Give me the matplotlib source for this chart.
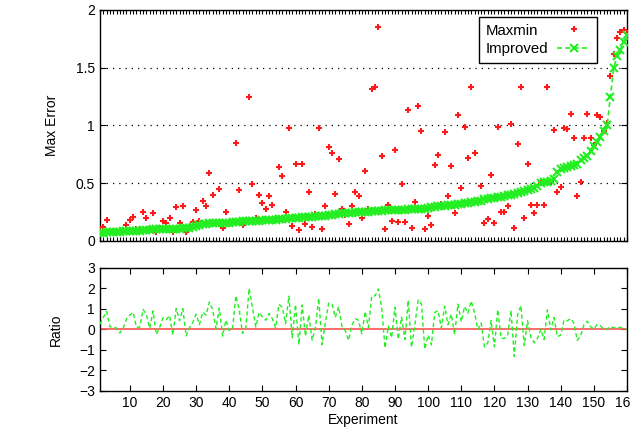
import numpy as np
import matplotlib
matplotlib.use("Agg")
import matplotlib.pyplot as plt

plt.rcParams["font.family"] = ["Liberation Sans", "DejaVu Sans"]
plt.rcParams["font.size"] = 10

# experiments sorted by the error of the improved method
improved = [
    0.07, 0.07, 0.075, 0.075, 0.08, 0.08, 0.08, 0.085, 0.085, 0.09,
    0.09, 0.09, 0.09, 0.095, 0.095, 0.095, 0.1, 0.1, 0.1, 0.1,
    0.1, 0.1, 0.105, 0.105, 0.105, 0.11, 0.11, 0.11, 0.12, 0.13,
    0.14, 0.15, 0.15, 0.155, 0.155, 0.155, 0.16, 0.16, 0.16, 0.16,
    0.165, 0.165, 0.165, 0.17, 0.17, 0.17, 0.17, 0.175, 0.175, 0.18,
    0.18, 0.18, 0.185, 0.185, 0.19, 0.19, 0.19, 0.195, 0.195, 0.2,
    0.2, 0.205, 0.205, 0.21, 0.21, 0.215, 0.215, 0.22, 0.22, 0.225,
    0.225, 0.23, 0.235, 0.24, 0.24, 0.245, 0.245, 0.25, 0.25, 0.25,
    0.255, 0.255, 0.26, 0.26, 0.26, 0.26, 0.265, 0.265, 0.265, 0.27,
    0.27, 0.27, 0.27, 0.275, 0.275, 0.275, 0.28, 0.28, 0.28, 0.285,
    0.29, 0.29, 0.3, 0.3, 0.305, 0.31, 0.31, 0.315, 0.32, 0.32,
    0.325, 0.33, 0.335, 0.34, 0.35, 0.35, 0.36, 0.365, 0.37, 0.375,
    0.38, 0.385, 0.39, 0.395, 0.4, 0.41, 0.415, 0.42, 0.43, 0.44,
    0.45, 0.46, 0.48, 0.5, 0.51, 0.515, 0.52, 0.54, 0.6, 0.62,
    0.63, 0.64, 0.65, 0.66, 0.67, 0.7, 0.72, 0.74, 0.78, 0.82,
    0.86, 0.9, 0.95, 1.0, 1.25, 1.5, 1.6, 1.65, 1.72, 1.78,
]

maxmin = [
    0.09, 0.124, 0.18, 0.085, 0.09, 0.085, 0.067, 0.09, 0.14, 0.18,
    0.205, 0.1, 0.1, 0.25, 0.196, 0.1, 0.245, 0.078, 0.11, 0.176,
    0.16, 0.196, 0.08, 0.29, 0.16, 0.3, 0.08, 0.12, 0.167, 0.27,
    0.176, 0.346, 0.3, 0.586, 0.4, 0.16, 0.45, 0.115, 0.25, 0.15,
    0.17, 0.846, 0.44, 0.14, 0.18, 1.25, 0.49, 0.196, 0.4, 0.33,
    0.28, 0.39, 0.31, 0.2, 0.64, 0.56, 0.25, 0.98, 0.13, 0.67,
    0.095, 0.67, 0.147, 0.42, 0.124, 0.23, 0.976, 0.104, 0.306, 0.81,
    0.765, 0.41, 0.71, 0.28, 0.225, 0.144, 0.3, 0.42, 0.39, 0.2,
    0.606, 0.28, 1.32, 1.33, 1.85, 0.736, 0.107, 0.31, 0.176, 0.79,
    0.167, 0.49, 0.165, 1.13, 0.115, 0.34, 1.17, 0.955, 0.107, 0.216,
    0.136, 0.66, 0.745, 0.32, 0.94, 0.39, 0.65, 0.245, 1.09, 0.46,
    0.99, 0.72, 1.33, 0.765, 0.35, 0.476, 0.153, 0.188, 0.57, 0.16,
    0.99, 0.25, 0.25, 0.3, 1.01, 0.11, 0.84, 1.33, 0.196, 0.667,
    0.31, 0.24, 0.31, 0.5, 0.31, 1.33, 0.51, 0.96, 0.42, 0.47,
    0.98, 0.97, 1.1, 0.89, 0.39, 0.51, 0.89, 1.1, 0.89, 0.83,
    1.09, 1.07, 0.95, 1.02, 1.43, 1.62, 1.76, 1.81, 1.83, 1.8,
]

experiment = np.arange(1, len(improved) + 1)
ratio = np.log(np.array(maxmin) / np.array(improved))

fig = plt.figure(figsize=(6.3, 4.4), dpi=100)
ax1 = fig.add_axes([0.1587, 0.4523, 0.8365, 0.525])
ax2 = fig.add_axes([0.1587, 0.1114, 0.8365, 0.2802])

ax1.plot(experiment, maxmin, "+", color="#ff1a1a", markersize=5, mew=1.5,
         label="Maxmin", zorder=3)
ax1.plot(experiment, improved, "--x", color="#22ee22", markersize=6, mew=1.5,
         lw=1.2, dashes=(3, 2), label="Improved", zorder=4)

ax1.set_xlim(1, 160)
ax1.set_ylim(0, 2)
ax1.set_yticks([0, 0.5, 1, 1.5, 2])
ax1.set_yticklabels(["0", "0.5", "1", "1.5", "2"])
ax1.set_xticks(experiment)
ax1.set_xticklabels([])
ax1.tick_params(axis="x", direction="in", length=3, width=0.8, top=True)
ax1.tick_params(axis="y", direction="in", length=4, right=True)
ax1.yaxis.grid(True, linestyle=(0, (1, 4)), color="black", lw=0.9)
ax1.set_ylabel("Max Error", labelpad=12)

leg = ax1.legend(loc="upper right", bbox_to_anchor=(597 / 630, 1 - 17 / 440),
                 bbox_transform=fig.transFigure, borderaxespad=0,
                 markerfirst=False, fancybox=False, framealpha=1,
                 edgecolor="black", handlelength=2.2, handletextpad=0.6,
                 borderpad=0.45, labelspacing=0.3, prop={"size": 10.8})
leg.get_frame().set_linewidth(1.0)

# MATLAB style legend: labels left aligned, samples on the right
fig.canvas.draw()
renderer = fig.canvas.get_renderer()
widths = [t.get_window_extent(renderer).width for t in leg.get_texts()]
rows = leg._legend_handle_box.get_children()[0].get_children()
for row, w in zip(rows, widths):
    row.sep += (max(widths) - w) * 72 / fig.dpi

ax2.plot(experiment, np.zeros(len(experiment)), "-", color="#ff5050", lw=1.2, zorder=2)
ax2.plot(experiment, ratio, "--", color="#22ee22", lw=1.0, dashes=(3, 2), zorder=3)
ax2.set_xlim(1, 160)
ax2.set_ylim(-3, 3)
ax2.set_yticks([-3, -2, -1, 0, 1, 2, 3])
ax2.set_xticks(np.arange(10, 161, 10))
ax2.tick_params(direction="in", length=4, top=True, right=True)
ax2.set_ylabel("Ratio", labelpad=12)
ax2.set_xlabel("Experiment", labelpad=2)

for ax in (ax1, ax2):
    for sp in ax.spines.values():
        sp.set_linewidth(1.0)

fig.savefig("out.png", dpi=100)
